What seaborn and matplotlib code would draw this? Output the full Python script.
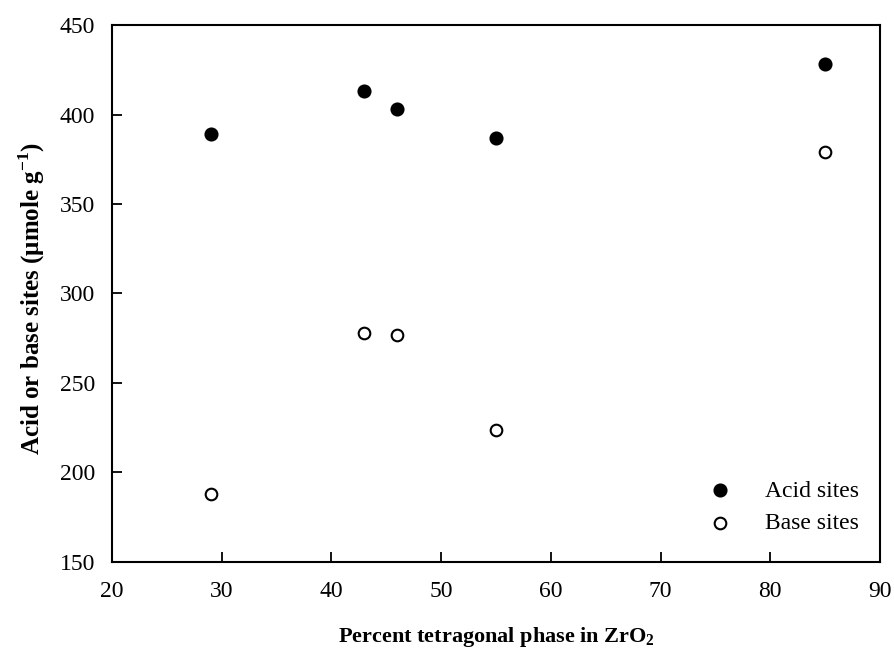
import matplotlib
matplotlib.use("Agg")
import matplotlib.pyplot as plt
import seaborn as sns
import pandas as pd

tetragonal = [29, 43, 46, 55, 85]
acid_sites = [389, 413, 403, 387, 428]
base_sites = [188, 278, 277, 224, 379]
series_names = ["Acid sites", "Base sites"]

sns.set_theme(style="ticks")
plt.rcParams['font.family'] = ['Liberation Serif', 'DejaVu Serif']
plt.rcParams['mathtext.fontset'] = 'custom'
plt.rcParams['mathtext.rm'] = 'Liberation Serif'
plt.rcParams['mathtext.bf'] = 'Liberation Serif:bold'
for k in ['text.color', 'axes.labelcolor', 'xtick.color', 'ytick.color', 'axes.edgecolor']:
    plt.rcParams[k] = 'black'

df = pd.DataFrame({
    "x": tetragonal * 2,
    "y": acid_sites + base_sites,
    "series": [series_names[0]] * len(tetragonal) + [series_names[1]] * len(tetragonal),
})

fig = plt.figure(figsize=(8.94, 6.53), dpi=100)
ax = fig.add_axes([0.1253, 0.1394, 0.859, 0.8223])

sns.scatterplot(data=df[df.series == series_names[0]], x="x", y="y", ax=ax,
                color="black", edgecolor="black", s=80, linewidth=1.2,
                label=series_names[0], zorder=3)
sns.scatterplot(data=df[df.series == series_names[1]], x="x", y="y", ax=ax,
                color="white", edgecolor="black", s=70, linewidth=1.5,
                label=series_names[1], zorder=3)

ax.set_xlim(20, 90)
ax.set_ylim(150, 450)
ax.set_xticks(range(20, 91, 10))
ax.set_yticks(range(150, 451, 50))
ax.tick_params(direction="in", length=7, width=1.3, labelsize=17,
               top=False, right=False)
ax.tick_params(axis="x", pad=14)
ax.tick_params(axis="y", pad=12)
for sp in ax.spines.values():
    sp.set_linewidth(1.5)
    sp.set_color("black")

ax.set_xlabel(r"Percent tetragonal phase in ZrO$_\mathbf{2}$", fontsize=16,
              fontweight="bold", labelpad=16)
ax.set_ylabel(r"Acid or base sites ($\mathbf{\mu}$mole g$^{\mathbf{-1}}$)", fontsize=18,
              fontweight="bold", labelpad=8)
ax.yaxis.set_label_coords(-0.085, 0.49)

leg = ax.legend(loc="lower right", frameon=False, fontsize=17,
                bbox_to_anchor=(1.0, 0.013), handletextpad=0.9, labelspacing=0.45)

fig.savefig("out.png", dpi=100)
